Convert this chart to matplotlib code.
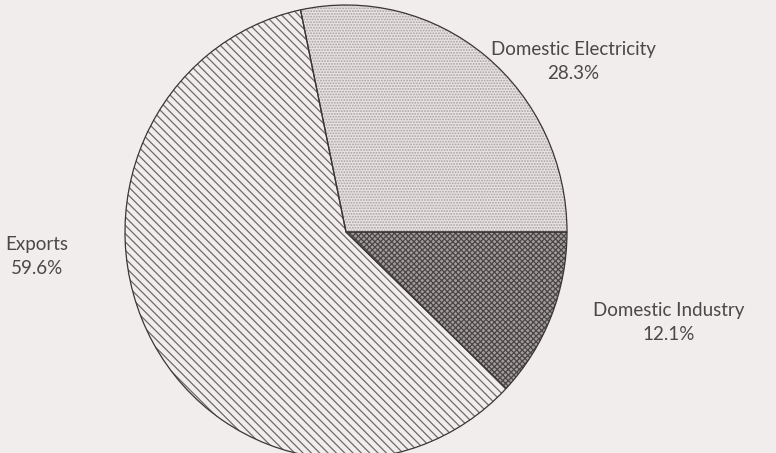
import matplotlib
matplotlib.use("Agg")
import matplotlib.pyplot as plt

labels = ["Domestic Electricity", "Exports", "Domestic Industry"]
shares = [28.3, 59.6, 12.1]

# look of each slice (face, hatch, hatch colour)
faces = ["#e9e2e2", "#f2eded", "#a39d9d"]
hatches = ["......", "\\\\\\\\", "xxxxxx"]
hatch_colors = ["#a8a1a1", "#6e6a6a", "#4a4646"]

# label anchors, in pie units (radius 1)
label_pos = [(1.03, 0.75), (-1.40, -0.11), (1.46, -0.40)]

bg = "#f2eded"
plt.rcParams["hatch.linewidth"] = 0.9

fig = plt.figure(figsize=(7.76, 4.53), dpi=100, facecolor=bg)
ax = fig.add_axes([0, 0, 1, 1])
ax.set_facecolor(bg)

# filled, hatched slices
wedges, _ = ax.pie(shares, startangle=0, counterclock=True, radius=1,
                   colors=faces, wedgeprops=dict(linewidth=0))
for w, h, hc in zip(wedges, hatches, hatch_colors):
    w.set_hatch(h)
    w.set_edgecolor(hc)

# outlines on top
ax.pie(shares, startangle=0, counterclock=True, radius=1,
       wedgeprops=dict(fill=False, edgecolor="#3a3636", linewidth=0.9))

for name, pct, (x, y) in zip(labels, shares, label_pos):
    ax.text(x, y, f"{name}\n{pct:.1f}%", ha="center", va="center",
            fontsize=13.5, color="#4d4848", linespacing=1.5,
            family="Lato", fontweight="normal")

# slightly taller than wide, as in the scan
ax.set_aspect("auto")
ax.set_xlim(-346 / 221, (776 - 346) / 221)
ax.set_ylim(-221 / 227, 232 / 227)
ax.axis("off")

fig.savefig("out.png", dpi=100, facecolor=bg)
